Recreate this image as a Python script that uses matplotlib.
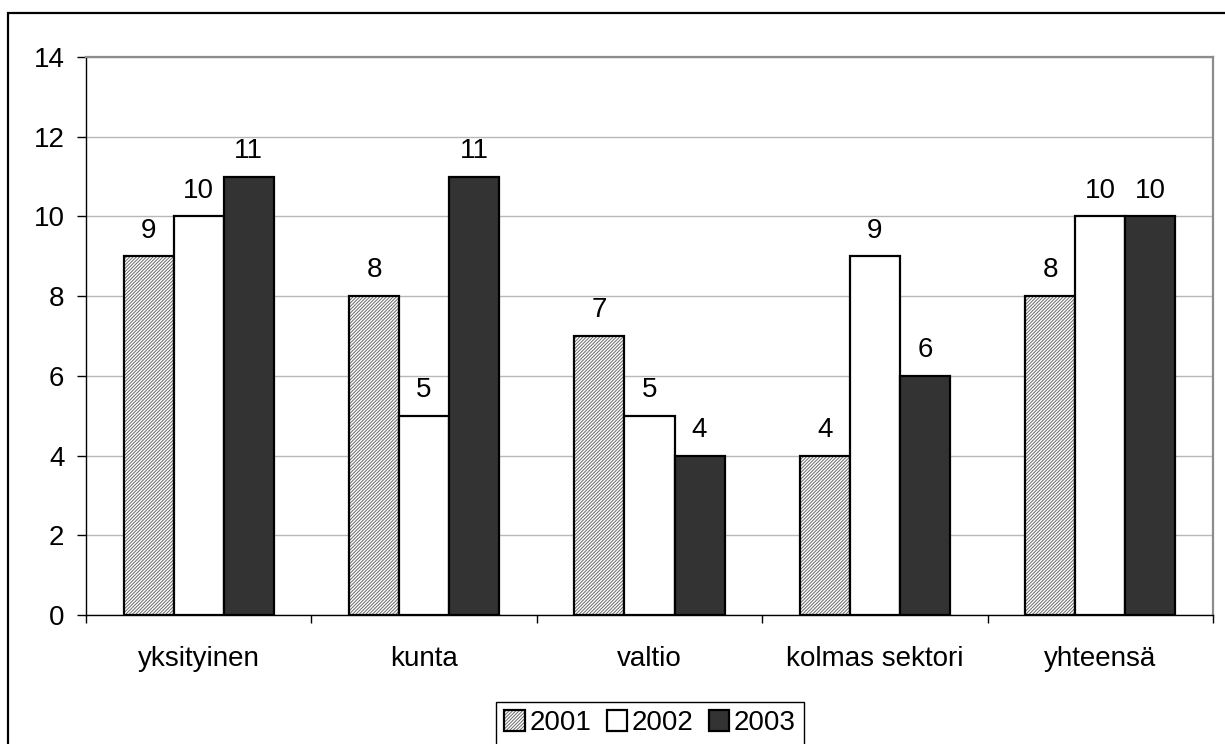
import matplotlib.pyplot as plt
import matplotlib.patches as mpatches
import numpy as np

plt.rcParams['font.family'] = ['Liberation Sans', 'DejaVu Sans']
plt.rcParams['hatch.linewidth'] = 0.7

# -------------------------- data --------------------------
sectors = ['yksityinen', 'kunta', 'valtio', 'kolmas sektori', 'yhteensä']
years = ['2001', '2002', '2003']
v2001 = [9, 8, 7, 4, 8]
v2002 = [10, 5, 5, 9, 10]
v2003 = [11, 11, 4, 6, 10]
yticks = [0, 2, 4, 6, 8, 10, 12, 14]

# -------------------------- plot --------------------------
fig = plt.figure(figsize=(12.25, 7.44), dpi=100)
ax = fig.add_axes([86 / 1225, 1 - 615 / 744, 1127 / 1225, 558 / 744])

x = np.arange(len(sectors))
width = 0.222
offsets = [-width, 0, width]
fs = 20
hatch_col = '#6a6a6a'
hatch_pat = '/' * 10

# 2001: fine grey diagonal hatching with black outline on top
ax.bar(x + 0.5 + offsets[0], v2001, width, color='white', edgecolor=hatch_col,
       hatch=hatch_pat, linewidth=0, zorder=3)
ax.bar(x + 0.5 + offsets[0], v2001, width, fill=False, edgecolor='black',
       linewidth=1.6, zorder=4)
ax.bar(x + 0.5 + offsets[1], v2002, width, color='white', edgecolor='black',
       linewidth=1.6, zorder=4)
ax.bar(x + 0.5 + offsets[2], v2003, width, color='#333333', edgecolor='black',
       linewidth=1.6, zorder=4)

# value labels
for vals, off in zip([v2001, v2002, v2003], offsets):
    for xi, v in zip(x, vals):
        ax.annotate(str(v), (xi + 0.5 + off, v), xytext=(0, 13.5),
                    textcoords='offset points', ha='center', va='baseline',
                    fontsize=fs)

ax.set_xlim(0, len(sectors))
ax.set_ylim(0, 14)
ax.set_yticks(yticks)
ax.tick_params(axis='y', labelsize=fs, length=6.5, width=1, pad=9, direction='out')

# category boundaries get tick marks, names sit in between
ax.set_xticks(np.arange(len(sectors) + 1))
ax.set_xticklabels([])
ax.set_xticks(x + 0.5, minor=True)
ax.set_xticklabels(sectors, minor=True)
ax.tick_params(axis='x', which='major', length=6, width=1, direction='out')
ax.tick_params(axis='x', which='minor', length=0, labelsize=fs, pad=22)

ax.grid(axis='y', color='#b8b8b8', linewidth=1, zorder=0)
ax.set_axisbelow(True)
for s in ['top', 'right']:
    ax.spines[s].set_color('#8c8c8c')
    ax.spines[s].set_linewidth(1.6)
for s in ['left', 'bottom']:
    ax.spines[s].set_color('black')
    ax.spines[s].set_linewidth(1)

# legend
h1 = (mpatches.Patch(facecolor='white', edgecolor=hatch_col, hatch=hatch_pat, linewidth=0),
      mpatches.Patch(fill=False, edgecolor='black', linewidth=1.6))
h2 = mpatches.Patch(facecolor='white', edgecolor='black', linewidth=1.6)
h3 = mpatches.Patch(facecolor='#333333', edgecolor='black', linewidth=1.6)
leg = fig.legend([h1, h2, h3], years, loc='upper center',
                 bbox_to_anchor=(650 / 1225, 1 - 702 / 744), ncol=3,
                 fontsize=fs, frameon=True, fancybox=False, framealpha=1,
                 edgecolor='black', handlelength=0.75, handleheight=0.75,
                 handletextpad=0.15, columnspacing=0.55, borderpad=0.3,
                 borderaxespad=0)
leg.get_frame().set_linewidth(1)

# outer chart frame
fig.patches.append(mpatches.Rectangle((8 / 1225, -0.05), 1.1, 1 - 13 / 744 + 0.05,
                                      transform=fig.transFigure, fill=False,
                                      edgecolor='black', linewidth=1.6))

fig.savefig('out.png', dpi=100)
